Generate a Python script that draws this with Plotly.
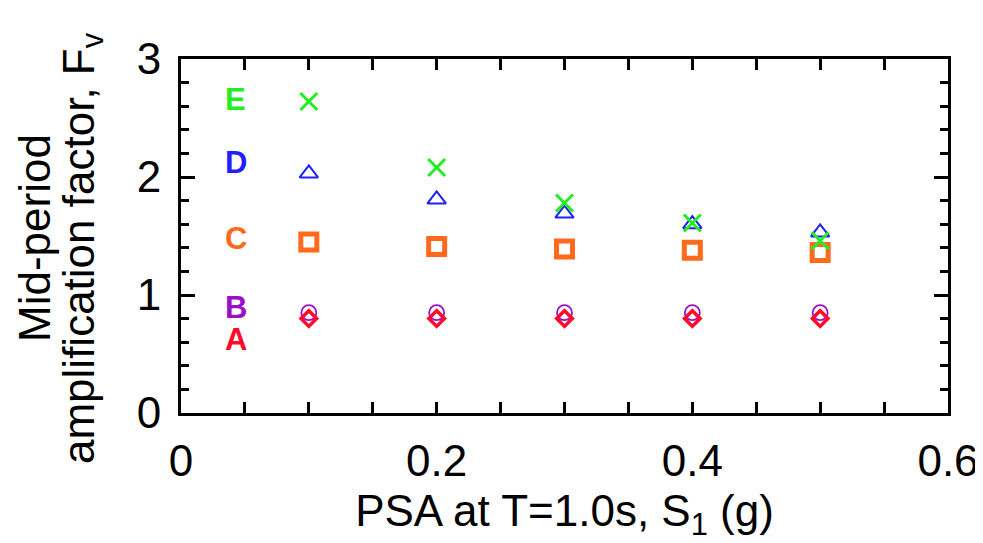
import plotly.graph_objects as go

x_vals = [0.1, 0.2, 0.3, 0.4, 0.5]
site_a = [0.80, 0.80, 0.80, 0.80, 0.80]
site_b = [0.85, 0.85, 0.85, 0.85, 0.85]
site_c = [1.45, 1.41, 1.39, 1.38, 1.36]
site_d = [2.03, 1.81, 1.69, 1.60, 1.53]
site_e = [2.64, 2.08, 1.78, 1.61, 1.46]

label_names = ["E", "D", "C", "B", "A"]
label_y = [2.66, 2.12, 1.48, 0.89, 0.62]
label_x = 0.043

col_a = "#ff0a2a"
col_b = "#9a10c8"
col_c = "#ff6a1c"
col_d = "#1f1fff"
col_e = "#22ee22"
label_colors = [col_e, col_d, col_c, col_b, col_a]

FONT = "Liberation Sans, Arial, sans-serif"

# page body has an 8px default margin, so the figure is laid out with that offset in mind
L, R, T, B = 173, 43, 51, 138
W, H = 983, 543

fig = go.Figure()
fig.add_trace(go.Scatter(x=x_vals, y=site_b, mode="markers", name="B",
                         marker=dict(symbol="circle-open", size=15, color=col_b, line=dict(width=1.8, color=col_b))))
fig.add_trace(go.Scatter(x=x_vals, y=site_a, mode="markers", name="A",
                         marker=dict(symbol="diamond-open", size=12, color=col_a, line=dict(width=3.5, color=col_a))))
fig.add_trace(go.Scatter(x=x_vals, y=site_c, mode="markers", name="C",
                         marker=dict(symbol="square-open", size=16, color=col_c, line=dict(width=5, color=col_c))))
fig.add_trace(go.Scatter(x=x_vals, y=site_d, mode="markers", name="D",
                         marker=dict(symbol="triangle-up-open", size=16, color=col_d, line=dict(width=2, color=col_d))))
fig.add_trace(go.Scatter(x=x_vals, y=site_e, mode="markers", name="E",
                         marker=dict(symbol="x-thin", size=17, color=col_e, line=dict(width=3, color=col_e))))

for name, yy, cc in zip(label_names, label_y, label_colors):
    fig.add_annotation(x=label_x, y=yy, xref="x", yref="y", text="<b>%s</b>" % name,
                       showarrow=False, font=dict(size=31, color=cc, family=FONT))

pw = W - L - R
ph = H - T - B
# two-line y-axis title, drawn as two rotated lines (pixel positions in figure coords)
title_lines = [("Mid-period", 27, 230), ("amplification factor, F<sub>v</sub>", 74, 240)]
for txt, px, py in title_lines:
    fig.add_annotation(x=(px - L) / pw, y=1 - (py - T) / ph, xref="paper", yref="paper",
                       text=txt, textangle=-90, showarrow=False,
                       font=dict(size=44, color="black", family=FONT),
                       xanchor="center", yanchor="middle")

axis_common = dict(showline=True, linecolor="black", linewidth=3, mirror="allticks",
                   ticks="inside", tickcolor="black", tickwidth=3, showgrid=False, zeroline=False,
                   automargin=False,
                   tickfont=dict(size=44, color="black", family=FONT))

fig.update_xaxes(range=[0, 0.6], ticklen=11,
                 minor=dict(dtick=0.05, ticks="inside", ticklen=11, tickwidth=3, tickcolor="black", showgrid=False),
                 tickvals=[0, 0.2, 0.4, 0.6], ticktext=["0", "0.2", "0.4", "0.6"],
                 ticklabelstandoff=7,
                 title=dict(text="PSA at T=1.0s, S<sub>1</sub> (g)", standoff=12,
                            font=dict(size=44, color="black", family=FONT)),
                 **axis_common)
fig.update_yaxes(range=[0, 3], tick0=0, dtick=1, ticklen=14,
                 minor=dict(dtick=0.2, ticks="inside", ticklen=8, tickwidth=3, tickcolor="black", showgrid=False),
                 ticklabelstandoff=8,
                 **axis_common)

fig.update_layout(width=W, height=H, showlegend=False,
                  margin=dict(l=L, r=R, t=T, b=B),
                  plot_bgcolor="white", paper_bgcolor="white",
                  font=dict(family=FONT, color="black"))

fig.write_html("out.html")
